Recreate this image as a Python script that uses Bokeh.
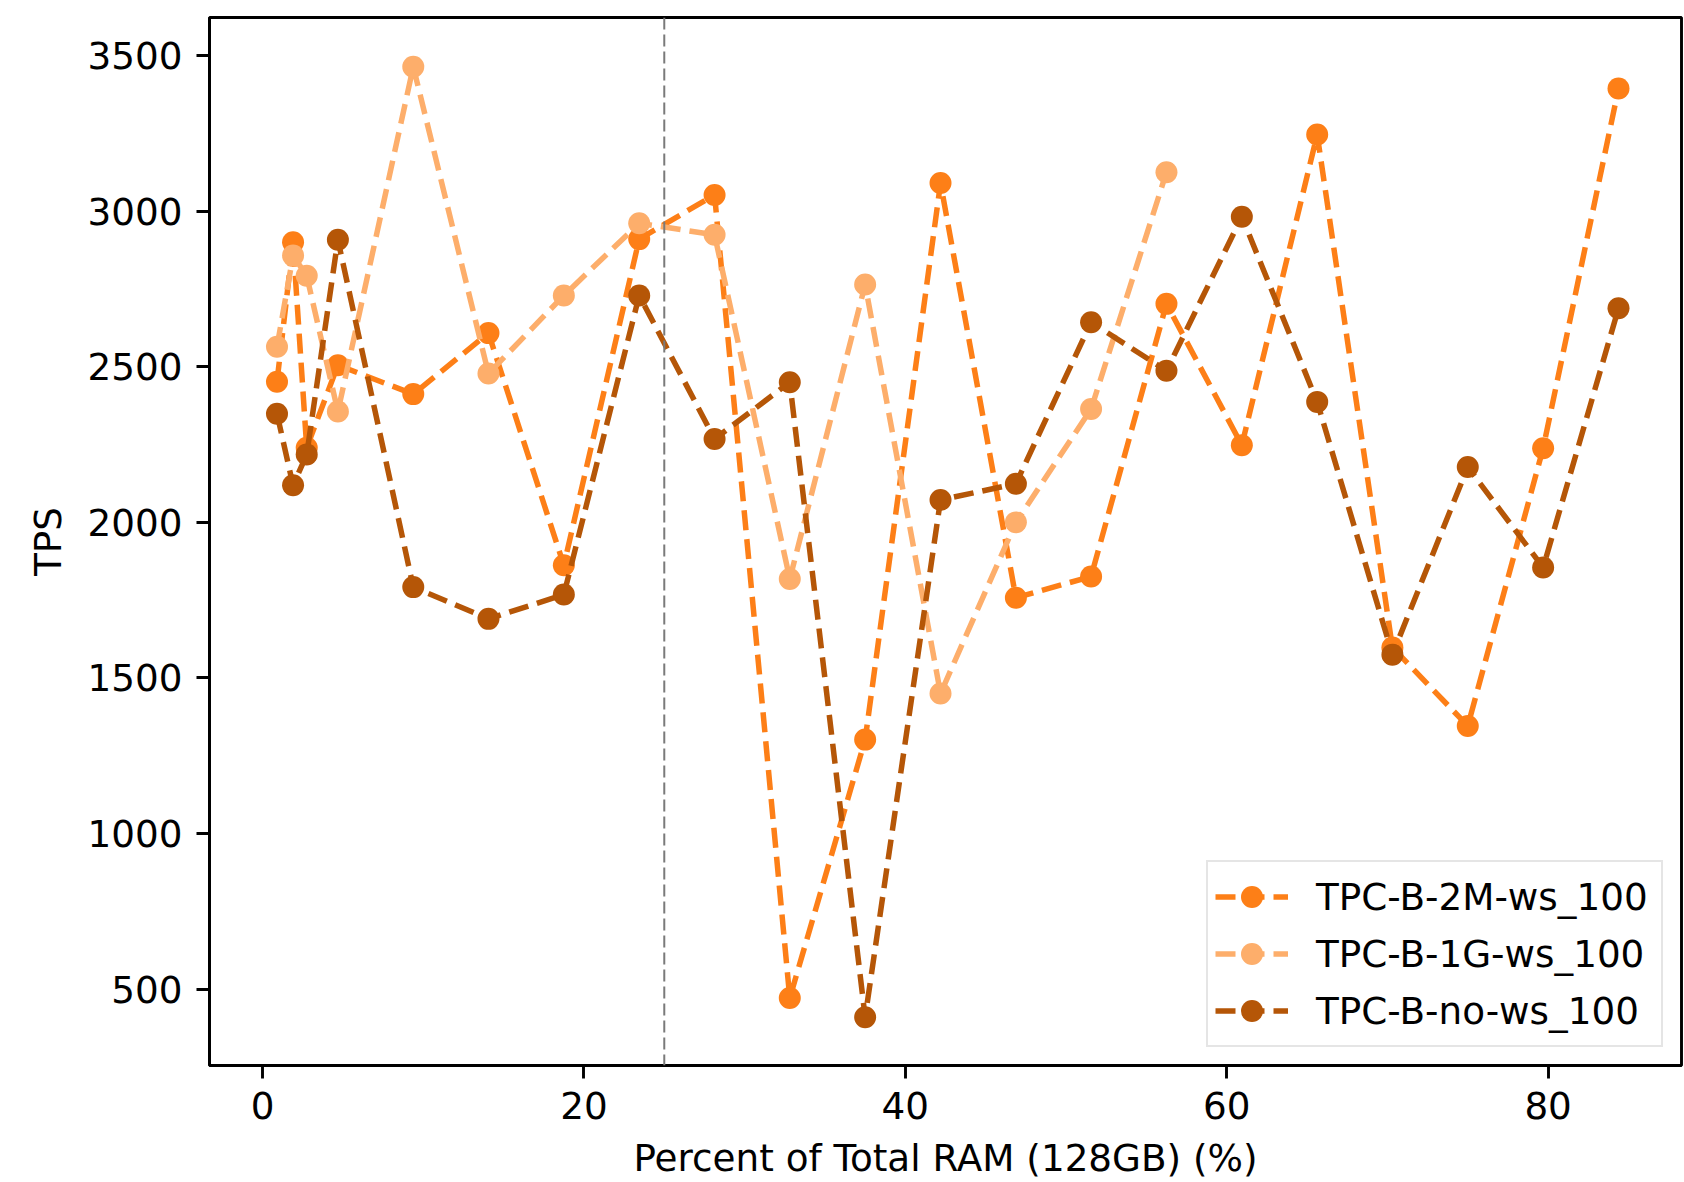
from bokeh.plotting import figure
from bokeh.models import Range1d, FixedTicker, Span, Legend, LegendItem
from bokeh.embed import file_html
from bokeh.resources import INLINE

# ---- data ----
pct_ram = [0.9, 1.9, 2.75, 4.69, 9.38, 14.06, 18.75, 23.44, 28.13, 32.81, 37.5,
           42.19, 46.88, 51.56, 56.25, 60.94, 65.63, 70.31, 75.0, 79.69, 84.38]
tps_2m = [2452, 2900, 2240, 2505, 2412, 2608, 1862, 2910, 3052, 472, 1302,
          3090, 1758, 1826, 2702, 2248, 3246, 1598, 1346, 2238, 3394]
tps_1g = [2564, 2857, 2792, 2356, 3464, 2478, 2729, 2961, 2924, 1818, 2764,
          1450, 2000, 2364, 3125]
tps_nows = [2349, 2119, 2218, 2908, 1792, 1690, 1768, 2729, 2268, 2450, 410,
            2072, 2124, 2643, 2487, 2982, 2387, 1575, 2178, 1855, 2688]
series_labels = ["TPC-B-2M-ws_100", "TPC-B-1G-ws_100", "TPC-B-no-ws_100"]
series_colors = ["#fd7f17", "#fdae6b", "#b55607"]
x_ticks = [0, 20, 40, 60, 80]
y_ticks = [500, 1000, 1500, 2000, 2500, 3000, 3500]
threshold_pct = 25
x_label = "Percent of Total RAM (128GB) (%)"
y_label = "TPS"

FONT = "DejaVu Sans"
FS = "37.3px"

p = figure(width=1684, height=1182, output_backend="svg", toolbar_location=None,
           x_range=Range1d(-3.3, 88.3), y_range=Range1d(255, 3622),
           min_border_left=209, min_border_right=3, min_border_top=17,
           min_border_bottom=117, background_fill_color="white",
           border_fill_color="white")

p.xgrid.visible = False
p.ygrid.visible = False
p.outline_line_color = "black"
p.outline_line_width = 2.9
p.outline_line_alpha = 1.0

p.xaxis.ticker = FixedTicker(ticks=x_ticks)
p.yaxis.ticker = FixedTicker(ticks=y_ticks)
for ax in (p.xaxis[0], p.yaxis[0]):
    ax.axis_line_width = 2.9
    ax.axis_line_color = "black"
    ax.major_tick_line_width = 2.9
    ax.major_tick_line_color = "black"
    ax.major_tick_out = 13
    ax.major_tick_in = 0
    ax.minor_tick_line_color = None
    ax.major_label_text_font = FONT
    ax.major_label_text_font_size = FS
    ax.major_label_text_color = "black"
    ax.axis_label_text_font = FONT
    ax.axis_label_text_font_size = FS
    ax.axis_label_text_font_style = "normal"
    ax.axis_label_text_color = "black"

p.xaxis.axis_label = x_label
p.yaxis.axis_label = y_label
p.xaxis.major_label_standoff = 13
p.xaxis.axis_label_standoff = 14
p.yaxis.major_label_standoff = 14
p.yaxis.axis_label_standoff = 15

series = [tps_2m, tps_1g, tps_nows]
items = []
for vals, lab, col in zip(series, series_labels, series_colors):
    xs = pct_ram[:len(vals)]
    r_line = p.line(xs, vals, line_color=col, line_width=5.5, line_dash="20 9")
    r_pts = p.scatter(xs, vals, marker="circle", size=22, fill_color=col,
                      line_color=col, line_width=0)
    items.append(LegendItem(label=lab, renderers=[r_line, r_pts]))

vline = Span(location=threshold_pct, dimension="height", line_color="#7a7a7a",
             line_width=2, line_dash="12 5")
p.add_layout(vline)

legend = Legend(items=items, location="bottom_right", margin=18, padding=7,
                spacing=2, glyph_width=73, glyph_height=55, label_height=36,
                label_width=338, label_standoff=28, label_text_font=FONT,
                label_text_font_size=FS, label_text_color="black",
                border_line_color="#cccccc", border_line_width=2.9,
                background_fill_color="white", background_fill_alpha=0.8)
p.add_layout(legend)

open("out.html", "w").write(file_html(p, INLINE))
